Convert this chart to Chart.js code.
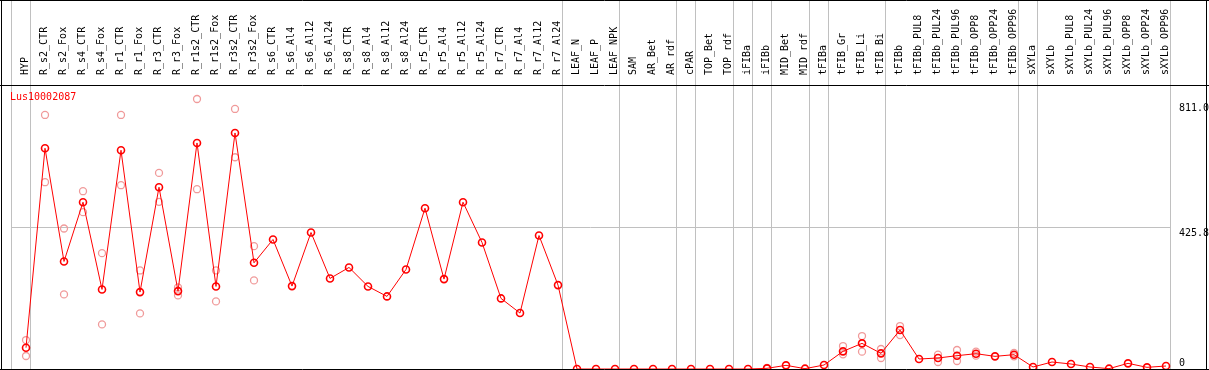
<!DOCTYPE html>
<html>
<head>
<meta charset="utf-8">
<script src="https://cdn.jsdelivr.net/npm/chart.js@4/dist/chart.umd.min.js"></script>
<style>
  html, body { margin: 0; padding: 0; background: #fff; }
  #wrap { width: 1209px; height: 370px; }
</style>
</head>
<body>
<div id="wrap"><canvas id="myChart"></canvas></div>
<script>
const geneId = "Lus10002087";

const categories = [
  "HYP", "R_s2_CTR", "R_s2_Fox", "R_s4_CTR", "R_s4_Fox", "R_r1_CTR", "R_r1_Fox",
  "R_r3_CTR", "R_r3_Fox", "R_r1s2_CTR", "R_r1s2_Fox", "R_r3s2_CTR", "R_r3s2_Fox",
  "R_s6_CTR", "R_s6_Al4", "R_s6_Al12", "R_s6_Al24", "R_s8_CTR", "R_s8_Al4", "R_s8_Al12",
  "R_s8_Al24", "R_r5_CTR", "R_r5_Al4", "R_r5_Al12", "R_r5_Al24", "R_r7_CTR", "R_r7_Al4",
  "R_r7_Al12", "R_r7_Al24", "LEAF_N", "LEAF_P", "LEAF_NPK", "SAM", "AR_Bet", "AR_rdf",
  "cPAR", "TOP_Bet", "TOP_rdf", "iFIBa", "iFIBb", "MID_Bet", "MID_rdf", "tFIBa",
  "tFIB_Gr", "tFIB_Li", "tFIB_Bi", "tFIBb", "tFIBb_PUL8", "tFIBb_PUL24", "tFIBb_PUL96",
  "tFIBb_OPP8", "tFIBb_OPP24", "tFIBb_OPP96", "sXYLa", "sXYLb", "sXYLb_PUL8",
  "sXYLb_PUL24", "sXYLb_PUL96", "sXYLb_OPP8", "sXYLb_OPP24", "sXYLb_OPP96"
];

// mean expression per sample
const meanValues = [
  64, 663, 323, 501, 239, 657, 231, 546, 234, 679, 248, 709, 319,
  389, 249, 410, 272, 305, 248, 218, 299, 483, 270, 501, 380, 212, 168, 401, 252,
  0, 0, 0, 0, 0, 0, 0, 0, 0, 0,
  2, 11, 1, 12, 53, 77, 47, 117, 30, 33, 40, 46, 38, 43,
  6, 21, 15, 6, 1, 17, 5, 9
];

// replicate values (null = none shown)
const repHigh = [
  87, 763, 422, 534, 348, 763, 296, 589, 245, 811, 296, 781, 369,
  null, null, null, null, null, null, null, null, null, null, null, null, null, null, null, null,
  null, null, null, null, null, null, null, null, null, null,
  3, null, null, null, 69, 99, 60, 129, null, 43, 57, 52, null, 48,
  null, null, null, null, null, null, null, null
];
const repLow = [
  39, 561, 224, 471, 134, 552, 167, 502, 221, 540, 203, 636, 266,
  null, null, null, null, null, null, null, null, null, null, null, null, null, null, null, null,
  null, null, null, null, null, null, null, null, null, null,
  1, null, null, null, 44, 52, 33, 102, null, 21, 24, 40, null, 38,
  null, null, null, null, null, null, null, null
];

// last sample index of each group (-1 = left edge)
const groupEnds = [-1, 0, 28, 31, 34, 35, 37, 38, 39, 41, 42, 45, 52, 53, 60];

const yTicks = [0, 425.8, 811.0];
const yTickLabels = ["0", "425.8", "811.0"];

const monoFont = { family: "'DejaVu Sans Mono', monospace", size: 10 };

const meanPoints = meanValues.map((v, i) => ({ x: i, y: v }));
const repPoints = [];
repHigh.forEach((v, i) => { if (v !== null) repPoints.push({ x: i, y: v }); });
repLow.forEach((v, i) => { if (v !== null) repPoints.push({ x: i, y: v }); });

const framePlugin = {
  id: "frame",
  beforeDatasetsDraw(chart) {
    const ctx = chart.ctx;
    const xs = chart.scales.x;
    const area = chart.chartArea;
    ctx.save();
    ctx.strokeStyle = "#c0c0c0";
    ctx.lineWidth = 1;
    groupEnds.forEach(b => {
      const px = Math.round(xs.getPixelForValue(b + 0.21)) + 0.5;
      ctx.beginPath();
      ctx.moveTo(px, 0);
      ctx.lineTo(px, area.bottom);
      ctx.stroke();
    });
    ctx.restore();
  },
  afterDraw(chart) {
    const ctx = chart.ctx;
    const area = chart.chartArea;
    const ys = chart.scales.y;
    const w = chart.width;
    ctx.save();
    ctx.strokeStyle = "#000";
    ctx.lineWidth = 1;
    ctx.beginPath();
    ctx.moveTo(0, 0.5); ctx.lineTo(w, 0.5);
    ctx.moveTo(0, Math.round(area.top) + 0.5); ctx.lineTo(w, Math.round(area.top) + 0.5);
    ctx.moveTo(0, 369.5); ctx.lineTo(w, 369.5);
    ctx.moveTo(1.5, 0); ctx.lineTo(1.5, 370);
    ctx.moveTo(w - 2.5, 0); ctx.lineTo(w - 2.5, 370);
    ctx.stroke();
    ctx.font = "10px 'DejaVu Sans Mono', monospace";
    // y tick labels: below their level, except the bottom one
    ctx.fillStyle = "#000";
    ctx.textAlign = "left";
    yTicks.forEach((v, i) => {
      const py = ys.getPixelForValue(v);
      if (v === 0) {
        ctx.textBaseline = "alphabetic";
        ctx.fillText(yTickLabels[i], area.right + 9, py - 3);
      } else {
        ctx.textBaseline = "top";
        ctx.fillText(yTickLabels[i], area.right + 9, py + (i === yTicks.length - 1 ? 4 : 1));
      }
    });
    // gene name
    ctx.fillStyle = "#ff0000";
    ctx.textBaseline = "middle";
    ctx.fillText(geneId, area.left - 1, area.top + 12);
    ctx.restore();
  }
};

const ctx = document.getElementById("myChart").getContext("2d");
new Chart(ctx, {
  type: "line",
  data: {
    datasets: [
      {
        label: "mean",
        data: meanPoints,
        borderColor: "#ff0000",
        borderWidth: 1,
        backgroundColor: "rgba(255,255,255,0)",
        pointBorderColor: "#ff0000",
        pointBackgroundColor: "rgba(255,255,255,0)",
        pointRadius: 3.5,
        pointBorderWidth: 1.6,
        tension: 0,
        clip: false,
        order: 1
      },
      {
        type: "scatter",
        label: "replicates",
        data: repPoints,
        showLine: false,
        pointBorderColor: "#f09a9a",
        pointBackgroundColor: "rgba(255,255,255,0)",
        pointRadius: 3.5,
        pointBorderWidth: 1.3,
        clip: false,
        order: 2
      }
    ]
  },
  options: {
    responsive: true,
    maintainAspectRatio: false,
    animation: false,
    events: [],
    layout: { autoPadding: false, padding: { left: 11, top: 0, right: 0, bottom: 1 } },
    plugins: { legend: { display: false }, tooltip: { enabled: false } },
    scales: {
      x: {
        type: "linear",
        position: "top",
        min: -0.79,
        max: 60.21,
        grid: { display: false },
        border: { display: false },
        afterBuildTicks: s => { s.ticks = categories.map((c, i) => ({ value: i })); },
        afterFit: s => { s.height = 85; s.paddingLeft = 0; s.paddingRight = 0; },
        ticks: {
          autoSkip: false,
          maxRotation: 90,
          minRotation: 90,
          padding: 2,
          labelOffset: 11,
          color: "#000",
          font: monoFont,
          callback: v => categories[v]
        }
      },
      y: {
        type: "linear",
        position: "right",
        min: 0,
        max: 853,
        border: { display: false },
        grid: {
          drawTicks: false,
          color: c => (c.tick && c.tick.value === 425.8 ? "#c0c0c0" : "rgba(0,0,0,0)")
        },
        afterBuildTicks: s => { s.ticks = yTicks.map(v => ({ value: v })); },
        afterFit: s => { s.width = 39; s.paddingTop = 0; s.paddingBottom = 0; },
        ticks: { display: false }
      }
    }
  },
  plugins: [framePlugin]
});
</script>
</body>
</html>
